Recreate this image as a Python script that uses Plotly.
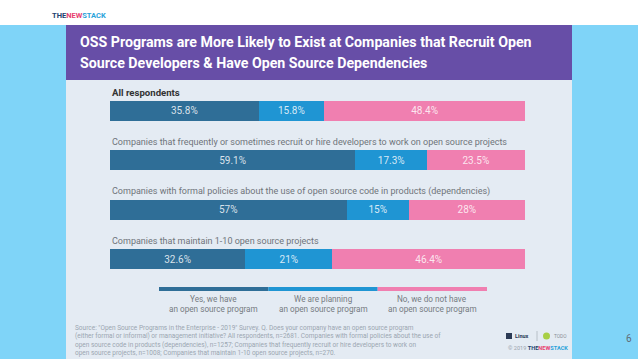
import plotly.graph_objects as go

W, H = 638, 359

categories = [
    "All respondents",
    "Companies that frequently or sometimes recruit or hire developers to work on open source projects",
    "Companies with formal policies about the use of open source code in products (dependencies)",
    "Companies that maintain 1-10 open source projects",
]
yes_program = [35.8, 59.1, 57, 32.6]
planning_program = [15.8, 17.3, 15, 21]
no_program = [48.4, 23.5, 28, 46.4]
series_names = [
    "Yes, we have<br>an open source program",
    "We are planning<br>an open source program",
    "No, we do not have<br>an open source program",
]
series_colors = ["#2f6e97", "#1f95d3", "#f07fb0"]

title_lines = [
    "OSS Programs are More Likely to Exist at Companies that Recruit Open",
    "Source Developers & Have Open Source Dependencies",
]
source_lines = [
    "Source: \"Open Source Programs in the Enterprise - 2019\" Survey. Q. Does your company have an open source program",
    "(either formal or informal) or management initiative? All respondents, n=2681. Companies with formal policies about the use of",
    "open source code in products (dependencies), n=1257; Companies that frequently recruit or hire developers to work on",
    "open source projects, n=1008; Companies that maintain 1-10 open source projects, n=270.",
]


def px(x):
    return x / W


def py(y):
    return 1 - y / H


fig = go.Figure()
for vals, name, col in zip([yes_program, planning_program, no_program], series_names, series_colors):
    fig.add_trace(go.Bar(
        y=categories, x=vals, orientation="h", name=name.replace("<br>", " "),
        marker=dict(color=col, line=dict(width=0)),
        text=[f"{v:g}%" for v in vals], textposition="inside",
        insidetextanchor="middle",
        textfont=dict(family="Roboto", size=10, color="rgba(255,255,255,0.82)"),
        hoverinfo="skip", showlegend=False,
    ))

shapes = [
    dict(type="rect", xref="paper", yref="paper", x0=0, x1=1, y0=0, y1=py(25),
         fillcolor="#7fd4f8", line=dict(width=0), layer="below"),
    dict(type="rect", xref="paper", yref="paper", x0=px(66), x1=px(572), y0=py(80), y1=py(25),
         fillcolor="#674ea7", line=dict(width=0), layer="below"),
    dict(type="rect", xref="paper", yref="paper", x0=px(66), x1=px(572), y0=0, y1=py(80),
         fillcolor="#e4ebf3", line=dict(width=0), layer="below"),
]

leg_x0, leg_x1, leg_y = 159, 487, 289
seg = (leg_x1 - leg_x0) / 3
annotations = []
for i, (name, col) in enumerate(zip(series_names, series_colors)):
    a = leg_x0 + i * seg
    b = a + seg
    shapes.append(dict(type="line", xref="paper", yref="paper", x0=px(a), x1=px(b),
                       y0=py(leg_y), y1=py(leg_y), line=dict(color=col, width=4)))
    for j, part in enumerate(name.split("<br>")):
        annotations.append(dict(x=px((a + b) / 2), y=py(299 + 10 * j), xref="paper", yref="paper",
                                text=part, showarrow=False, xanchor="center", yanchor="middle",
                                font=dict(family="Roboto", size=8.2, color="#767b82")))

for i, c in enumerate(categories):
    annotations.append(dict(x=px(110), y=c, xref="paper", yref="y", yshift=18,
                            text=("<b>" + c + "</b>") if i == 0 else c, showarrow=False,
                            xanchor="left", yanchor="middle",
                            font=dict(family="Roboto", size=9.6 if i == 0 else 9.0,
                                      color="#333333" if i == 0 else "#6f747a")))

for i, t in enumerate(title_lines):
    annotations.append(dict(x=px(78), y=py(42 + 21 * i), xref="paper", yref="paper", text="<b>" + t + "</b>",
                            showarrow=False, xanchor="left", yanchor="middle",
                            font=dict(family="Roboto", size=14.2, color="#ffffff")))

annotations.append(dict(x=px(50), y=py(16), xref="paper", yref="paper",
                        text="<b><span style='color:#21416f'>THE</span><span style='color:#e8416f'>NEW</span>"
                             "<span style='color:#2aa3da'>STACK</span></b>",
                        showarrow=False, xanchor="left", yanchor="middle",
                        font=dict(family="Roboto", size=7.5)))

annotations.append(dict(x=px(73), y=py(322), xref="paper", yref="paper",
                        text="<br>".join(source_lines), showarrow=False, xanchor="left", yanchor="top",
                        align="left", font=dict(family="Roboto", size=6.5, color="#9ba6b1")))

shapes.append(dict(type="rect", xref="paper", yref="paper", x0=px(506), x1=px(512), y0=py(339), y1=py(333),
                   fillcolor="#2b3a55", line=dict(width=0)))
annotations.append(dict(x=px(513), y=py(336), xref="paper", yref="paper", text="<b>Linux</b>",
                        showarrow=False, xanchor="left", yanchor="middle",
                        font=dict(family="Roboto", size=5.5, color="#2b3a55")))
shapes.append(dict(type="line", xref="paper", yref="paper", x0=px(537), x1=px(537), y0=py(341), y1=py(331),
                   line=dict(color="#b8c0c8", width=1)))
shapes.append(dict(type="circle", xref="paper", yref="paper", x0=px(543), x1=px(550), y0=py(339.5), y1=py(332.5),
                   fillcolor="#a8cf45", line=dict(width=0)))
annotations.append(dict(x=px(552), y=py(336), xref="paper", yref="paper", text="TODO",
                        showarrow=False, xanchor="left", yanchor="middle",
                        font=dict(family="Roboto", size=4.8, color="#8a9096")))
annotations.append(dict(x=px(506), y=py(348), xref="paper", yref="paper",
                        text="<span style='color:#9aa4ae'>© 2019 </span><b><span style='color:#21416f'>THE</span>"
                             "<span style='color:#e8416f'>NEW</span><span style='color:#2aa3da'>STACK</span></b>",
                        showarrow=False, xanchor="left", yanchor="middle",
                        font=dict(family="Roboto", size=5.6)))

annotations.append(dict(x=px(629), y=py(338), xref="paper", yref="paper", text="6",
                        showarrow=False, xanchor="center", yanchor="middle",
                        font=dict(family="Roboto", size=10, color="#5f6b75")))

bar_top_c, bar_bot_c = 110.5, 259
half = (bar_bot_c - bar_top_c) / 3 / 2

fig.update_layout(
    width=W, height=H, margin=dict(l=0, r=0, t=0, b=0),
    paper_bgcolor="#ffffff", plot_bgcolor="rgba(0,0,0,0)",
    barmode="stack", bargap=1 - 20 / (2 * half),
    xaxis=dict(domain=[px(110), px(525)], range=[0, 100], visible=False, fixedrange=True),
    yaxis=dict(domain=[py(bar_bot_c + half), py(bar_top_c - half)],
               categoryorder="array", categoryarray=categories,
               range=[3.5, -0.5], visible=False, fixedrange=True),
    shapes=shapes, annotations=annotations,
    uniformtext=dict(mode="show", minsize=6),
)

fig.write_html("out.html", config={"displayModeBar": False},
               post_script="document.body.style.margin='0';document.body.style.padding='0';document.body.style.overflow='hidden';")
